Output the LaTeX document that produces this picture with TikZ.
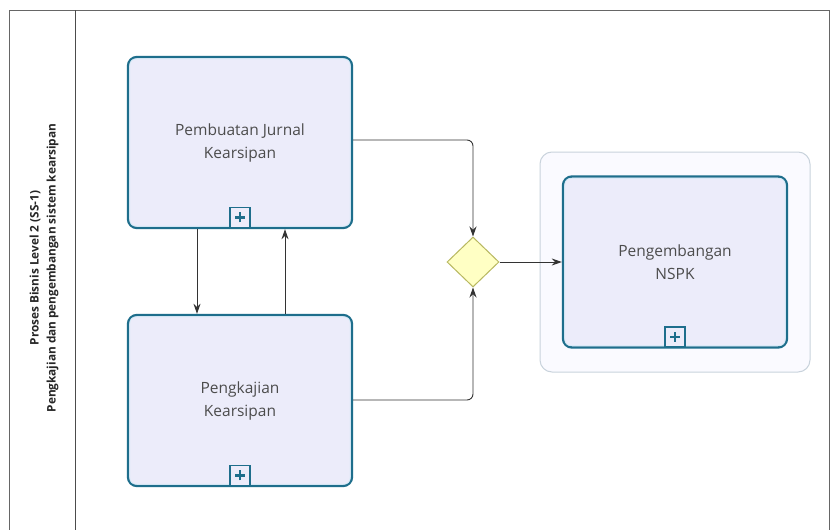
\documentclass[tikz,border=0pt]{standalone}
\usepackage{fontspec}
\setmainfont{Open Sans}
\usetikzlibrary{shapes.geometric,arrows.meta}
\definecolor{taskline}{HTML}{1E6E8C}
\definecolor{taskfill}{HTML}{ECECFA}
\definecolor{taskinner}{HTML}{D2EAF7}
\definecolor{gwfill}{HTML}{FFFFC4}
\definecolor{gwline}{HTML}{B8B860}
\definecolor{grpline}{HTML}{C9D3DC}
\definecolor{flow}{HTML}{333333}
\tikzset{
  task/.style={draw=taskline, line width=2.4pt, fill=taskfill, rounded corners=9pt,
    minimum width=224pt, minimum height=171pt, inner sep=0pt, align=center,
    font=\fontsize{15.5}{23}\selectfont, text=black!70},
  marker/.style={draw=taskline, line width=1.3pt, fill=taskfill, minimum size=20pt, inner sep=0pt},
  gateway/.style={diamond, draw=gwline, line width=1pt, fill=gwfill, minimum width=52pt, minimum height=50pt, inner sep=0pt, aspect=1.04},
  flowline/.style={draw=flow, line width=0.9pt, rounded corners=6pt, -{Stealth[length=10pt,width=7pt]}},
}
\newcommand{\subplus}[1]{%
  \node[marker, anchor=south] (#1-m) at ([yshift=1.2pt]#1.south) {};
  \draw[taskline, line width=2.6pt] ([xshift=-5pt]#1-m.center) -- ([xshift=5pt]#1-m.center);
  \draw[taskline, line width=2.6pt] ([yshift=-5pt]#1-m.center) -- ([yshift=5pt]#1-m.center);
}
\begin{document}
\begin{tikzpicture}[x=1pt,y=-1pt]
\useasboundingbox (0,0) rectangle (831,530);
\fill[white] (0,0) rectangle (831,530);
% pool and lane header
\draw[black!60, line width=0.9pt] (9,545) -- (9,10) -- (829,10) -- (829,545);
\draw[black!70, line width=0.9pt] (75,10) -- (75,545);
\node[rotate=90, align=center, font=\bfseries\fontsize{11.8}{17}\selectfont, text=black!85] (lane) at (44,268)
  {Proses Bisnis Level 2 (SS-1)\\Pengkajian dan pengembangan sistem kearsipan};
% group around the last task
\draw[grpline, line width=1pt, fill=blue!2, rounded corners=12pt] (540,152) rectangle (810,372);
% tasks
\node[task] (t1) at (240,142.5) {Pembuatan Jurnal\\Kearsipan};
\node[task] (t2) at (240,400.5) {Pengkajian\\Kearsipan};
\node[task] (t3) at (675,262) {Pengembangan\\NSPK};
\foreach \t in {t1,t2,t3} {
  \draw[taskinner, line width=0.8pt, rounded corners=6pt] ([shift={(3pt,-3pt)}]\t.north west) rectangle ([shift={(-3pt,3pt)}]\t.south east);
}
\subplus{t1}
\subplus{t2}
\subplus{t3}
% gateway
\node[gateway] (g) at (473,262) {};
% sequence flows
\draw[flowline] (t1.east |- 0,140) -| (g.north);
\draw[flowline] (t2.east |- 0,400) -| (g.south);
\draw[flowline] (g.east) -- (t3.west);
\draw[flowline] (t1.south -| 197,0) -- (t2.north -| 197,0);
\draw[flowline] (t2.north -| 285,0) -- (t1.south -| 285,0);
\end{tikzpicture}
\end{document}
